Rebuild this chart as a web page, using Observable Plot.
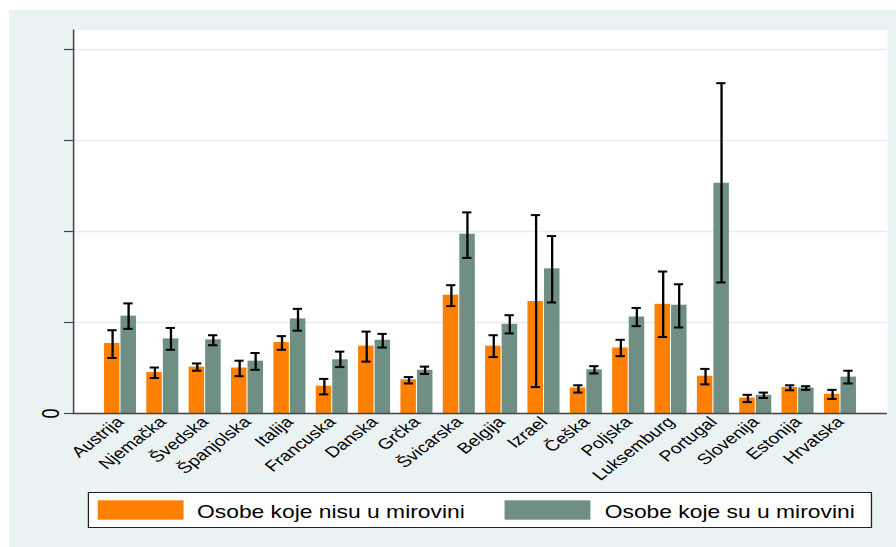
<!DOCTYPE html>
<html><head><meta charset="utf-8">
<script src="https://cdn.jsdelivr.net/npm/d3@7"></script>
<script src="https://cdn.jsdelivr.net/npm/@observablehq/plot@0.6"></script>
<style>
html,body{margin:0;padding:0;background:#fff;}
#stage{position:relative;width:896px;height:547px;overflow:hidden;}
#inner{position:absolute;left:0;top:0;width:694px;height:547px;transform:scaleX(1.29107);transform-origin:0 0;font-family:"Liberation Sans",Arial,Helvetica,sans-serif;}
#bg{position:absolute;left:7px;top:10px;right:0;bottom:0;background:#eaf2f3;}
#chart{position:absolute;left:0;top:0;}
</style>
</head><body>
<div id="stage"><div id="inner"><div id="bg"></div><div id="chart"></div></div></div>
<script>
const countries = ["Austrija","Njemačka","Švedska","Španjolska","Italija","Francuska","Danska","Grčka","Švicarska","Belgija","Izrael","Češka","Poljska","Luksemburg","Portugal","Slovenija","Estonija","Hrvatska"];
const notRetired   = [0.77,0.45,0.51,0.50,0.78,0.30,0.74,0.37,1.30,0.74,1.23,0.28,0.72,1.20,0.41,0.17,0.285,0.21];
const notRetiredLo = [0.61,0.39,0.47,0.41,0.70,0.21,0.57,0.33,1.18,0.62,0.29,0.23,0.63,0.84,0.32,0.125,0.255,0.16];
const notRetiredHi = [0.915,0.505,0.55,0.58,0.85,0.38,0.90,0.40,1.41,0.86,2.18,0.31,0.81,1.56,0.49,0.205,0.31,0.26];
const retired   = [1.07,0.82,0.81,0.575,1.04,0.59,0.805,0.475,1.97,0.98,1.59,0.48,1.06,1.19,2.53,0.20,0.28,0.40];
const retiredLo = [0.93,0.70,0.75,0.48,0.91,0.51,0.725,0.435,1.71,0.88,1.22,0.44,0.96,0.945,1.44,0.17,0.26,0.33];
const retiredHi = [1.21,0.94,0.86,0.665,1.15,0.68,0.875,0.515,2.21,1.08,1.95,0.52,1.16,1.42,3.63,0.23,0.30,0.47];
const seriesNames = ["Osobe koje nisu u mirovini","Osobe koje su u mirovini"];
const seriesColors = ["#ff8000","#6f8f84"];
const yTicks = [0,1,2,3,4];

const W = 694, H = 547, ML = 56.5, MR = 7, MT = 29.5, MB = 134;
const pInner = 0.244, pOuter = 0.732;
const step = (W - ML - MR) / (countries.length - pInner + 2 * pOuter);
const bw = step * (1 - pInner);
const half = bw / 2, capHalf = 3.6, gap = 0.4;

const A = countries.map((c, i) => ({c, v: notRetired[i], lo: notRetiredLo[i], hi: notRetiredHi[i]}));
const B = countries.map((c, i) => ({c, v: retired[i], lo: retiredLo[i], hi: retiredHi[i]}));

const plot = Plot.plot({
  width: W, height: H, marginLeft: ML, marginRight: MR, marginTop: MT, marginBottom: MB,
  style: {background: "transparent", fontFamily: "Liberation Sans, Arial, Helvetica, sans-serif", color: "#000"},
  x: {domain: countries, paddingInner: pInner, paddingOuter: pOuter, align: 0.5, round: false, axis: null},
  y: {domain: [0, 383.5 / 91], axis: null},
  marks: [
    Plot.frame({fill: "white", stroke: null}),
    Plot.gridY(yTicks.filter(d => d > 0), {stroke: "#e4ecef", strokeOpacity: 1, strokeWidth: 1.6}),
    Plot.barY(A, {x: "c", y: "v", fill: seriesColors[0], insetLeft: 0, insetRight: half + gap}),
    Plot.barY(B, {x: "c", y: "v", fill: seriesColors[1], insetLeft: half + gap, insetRight: 0}),
    Plot.ruleX(A, {x: "c", y1: "lo", y2: "hi", dx: -bw / 4, stroke: "#000", strokeWidth: 1.8}),
    Plot.ruleX(B, {x: "c", y1: "lo", y2: "hi", dx: bw / 4, stroke: "#000", strokeWidth: 1.8}),
    Plot.tickY(A, {x: "c", y: "lo", stroke: "#000", strokeWidth: 2, insetLeft: bw / 4 - capHalf, insetRight: bw * 3 / 4 - capHalf}),
    Plot.tickY(A, {x: "c", y: "hi", stroke: "#000", strokeWidth: 2, insetLeft: bw / 4 - capHalf, insetRight: bw * 3 / 4 - capHalf}),
    Plot.tickY(B, {x: "c", y: "lo", stroke: "#000", strokeWidth: 2, insetLeft: bw * 3 / 4 - capHalf, insetRight: bw / 4 - capHalf}),
    Plot.tickY(B, {x: "c", y: "hi", stroke: "#000", strokeWidth: 2, insetLeft: bw * 3 / 4 - capHalf, insetRight: bw / 4 - capHalf}),
    Plot.frame({anchor: "left", stroke: "#444", strokeWidth: 1.2}),
    Plot.ruleY([0], {stroke: "#444", strokeWidth: 1.6}),
    Plot.axisY({ticks: yTicks, tickFormat: d => d === 0 ? "0" : "", tickSize: 7, tickRotate: -90, tickPadding: 4, fontSize: 18, stroke: "#444", strokeWidth: 1.2, label: null}),
    Plot.axisX({tickRotate: -45, tickSize: 0, tickPadding: 6, fontSize: 15, label: null})
  ]
});
document.getElementById("chart").appendChild(plot);

// legend
const lg = d3.select("#inner").append("svg")
  .attr("width", W).attr("height", 60)
  .style("position", "absolute").style("left", "0px").style("top", "480px");
lg.append("rect").attr("x", 68.5).attr("y", 12.5).attr("width", 606.5).attr("height", 35)
  .attr("fill", "#fff").attr("stroke", "#222").attr("stroke-width", 1);
const swX = [75.7, 390.8], txX = [152.6, 468.4];
seriesNames.forEach((name, i) => {
  lg.append("rect").attr("x", swX[i]).attr("y", 20.3).attr("width", 66.5).attr("height", 19.4).attr("fill", seriesColors[i]);
  lg.append("text").attr("x", txX[i]).attr("y", 38.3).attr("font-size", 17.7)
    .attr("font-family", "Liberation Sans, Arial, Helvetica, sans-serif").attr("fill", "#000").text(name);
});
</script>
</body></html>
